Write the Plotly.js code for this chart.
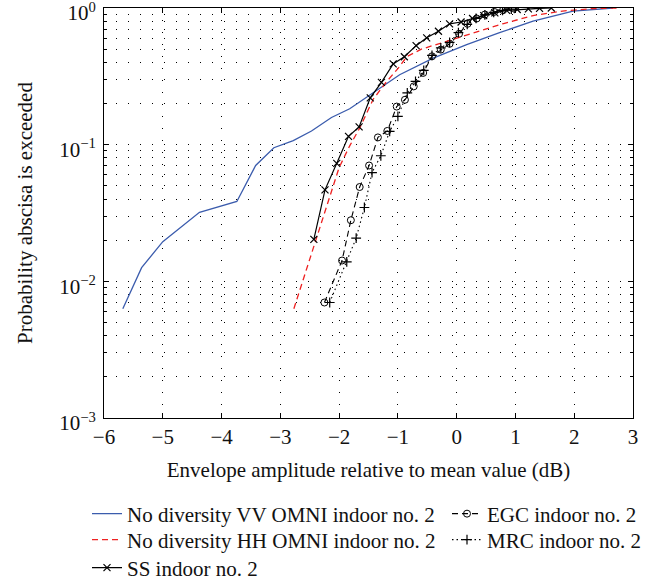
<!DOCTYPE html>
<html>
<head>
<meta charset="utf-8">
<script src="https://cdn.plot.ly/plotly-3.0.1.min.js"></script>
<style>html,body{margin:0;padding:0;background:#fff;}#chart{width:661px;height:583px;}</style>
</head>
<body>
<div id="chart"></div>
<script>
// ---- Data ----
const vvX = [-5.68, -5.36, -5.0, -4.375, -3.74, -3.42, -3.11, -2.78, -2.47, -2.13, -1.82, -1.36, -0.97, -0.40, 0.17, 0.73, 1.30, 1.98, 2.66];
const vvP = [0.0063, 0.0126, 0.0195, 0.032, 0.0384, 0.0704, 0.095, 0.107, 0.126, 0.158, 0.183, 0.25, 0.325, 0.43, 0.54, 0.66, 0.80, 0.95, 1.0];

const hhX = [-2.77, -2.41, -2.0, -1.82, -1.65, -1.42, -1.19, -1.0, -0.85, -0.6, -0.3, 0.0, 0.4, 0.8, 1.3, 1.8, 2.3, 2.72];
const hhP = [0.0063, 0.019, 0.068, 0.098, 0.132, 0.215, 0.29, 0.36, 0.44, 0.50, 0.55, 0.60, 0.68, 0.77, 0.88, 0.95, 0.99, 1.0];

const ssX = [-2.43, -2.24, -2.04, -1.84, -1.66, -1.47, -1.28, -1.08, -0.89, -0.69, -0.51, -0.31, -0.12, 0.075, 0.27, 0.46, 0.65, 0.85, 1.03, 1.22, 1.41, 1.61];
const ssP = [0.0203, 0.0467, 0.073, 0.115, 0.135, 0.22, 0.286, 0.39, 0.44, 0.53, 0.605, 0.676, 0.766, 0.79, 0.838, 0.88, 0.92, 0.96, 0.975, 0.985, 0.995, 1.0];

const egcX = [-2.25, -1.95, -1.80, -1.65, -1.49, -1.34, -1.18, -1.02, -0.88, -0.73, -0.57, -0.42, -0.27, -0.12, 0.04, 0.185, 0.34, 0.48, 0.64, 0.79, 0.95];
const egcP = [0.0070, 0.0142, 0.028, 0.049, 0.0704, 0.113, 0.126, 0.19, 0.213, 0.267, 0.335, 0.443, 0.496, 0.547, 0.647, 0.766, 0.838, 0.896, 0.937, 0.964, 1.0];

const mrcX = [-2.16, -1.87, -1.71, -1.57, -1.44, -1.29, -1.14, -1.0, -0.84, -0.70, -0.56, -0.42, -0.27, -0.12, 0.03, 0.18, 0.33, 0.48, 0.63, 0.78, 0.93];
const mrcP = [0.0070, 0.0139, 0.0207, 0.0347, 0.0625, 0.083, 0.125, 0.161, 0.239, 0.29, 0.35, 0.45, 0.51, 0.56, 0.66, 0.76, 0.84, 0.89, 0.93, 0.96, 0.98];

const seriesNames = [
  "No diversity VV OMNI indoor no. 2",
  "EGC indoor no. 2",
  "No diversity HH OMNI indoor no. 2",
  "MRC indoor no. 2",
  "SS indoor no. 2"
];

const xTickVals = [-6, -5, -4, -3, -2, -1, 0, 1, 2, 3];
const yTickVals = [0.001, 0.01, 0.1, 1];
const yTickText = ["10<sup>−3</sup>", "10<sup>−2</sup>", "10<sup>−1</sup>", "10<sup>0</sup>"];

const xTitle = "Envelope amplitude relative to mean value (dB)";
const yTitle = "Probability abscisa is exceeded";

// ---- Build ----
const FONT = "Liberation Serif, Times New Roman, serif";
const FS = 21;
const minorY = [];
[0.001, 0.01, 0.1].forEach(d => { for (let k = 2; k <= 9; k++) minorY.push(d * k); });

const traces = [
  {x: vvX, y: vvP, name: seriesNames[0], mode: "lines", legend: "legend",
   line: {color: "#3b5cad", width: 1.3}},
  {x: egcX, y: egcP, name: seriesNames[1], mode: "lines+markers", legend: "legend4",
   line: {color: "#000", width: 1.1, dash: "6px,4px"},
   marker: {symbol: "circle-open", size: 7, color: "#000", line: {width: 1, color: "#000"}}},
  {x: hhX, y: hhP, name: seriesNames[2], mode: "lines", legend: "legend2",
   line: {color: "#ee2222", width: 1.3, dash: "6px,4px"}},
  {x: mrcX, y: mrcP, name: seriesNames[3], mode: "lines+markers", legend: "legend5",
   line: {color: "#000", width: 1.1, dash: "1.5px,3px"},
   marker: {symbol: "cross-thin-open", size: 7, color: "#000", line: {width: 1.2, color: "#000"}}},
  {x: ssX, y: ssP, name: seriesNames[4], mode: "lines+markers", legend: "legend3",
   line: {color: "#000", width: 1.2},
   marker: {symbol: "x-thin-open", size: 7, color: "#000", line: {width: 1.2, color: "#000"}}}
];

const gridDash = "1px,11px";
// plot area: top 8px, bottom 418px (410px tall)
const rowY = px => (418 - px) / 410;
const colX = px => (px - 104) / 529;
function leg(xpx, ypx) {
  return {x: colX(xpx), xanchor: "left", y: rowY(ypx), yanchor: "middle", orientation: "v",
          bgcolor: "rgba(0,0,0,0)", borderwidth: 0, font: {family: FONT, size: FS, color: "#111"},
          itemwidth: 30, tracegroupgap: 0};
}

const layout = {
  width: 661, height: 583,
  margin: {l: 104, r: 28, t: 8, b: 165, pad: 0, autoexpand: false},
  paper_bgcolor: "#fff", plot_bgcolor: "#fff",
  font: {family: FONT, size: FS, color: "#111"},
  showlegend: true,
  xaxis: {
    range: [-6, 3], tickmode: "array", tickvals: xTickVals,
    ticks: "inside", ticklen: 5, tickcolor: "#000", tickwidth: 1,
    showline: true, linecolor: "#000", linewidth: 1, mirror: "ticks",
    showgrid: true, gridcolor: "#000", gridwidth: 1, griddash: gridDash,
    zeroline: false, ticklabeloverflow: "allow",
    tickfont: {family: FONT, size: FS, color: "#111"},
    title: {text: xTitle, font: {family: FONT, size: FS, color: "#111"}, standoff: 14}
  },
  yaxis: {
    type: "log", range: [-3, 0], tickmode: "array", tickvals: yTickVals, ticktext: yTickText,
    ticks: "inside", ticklen: 5, tickcolor: "#000", tickwidth: 1,
    showline: true, linecolor: "#000", linewidth: 1, mirror: "ticks",
    showgrid: true, gridcolor: "#000", gridwidth: 1, griddash: gridDash,
    zeroline: false, ticklabelstandoff: 3, ticklabelshift: 5, ticklabeloverflow: "allow",
    tickfont: {family: FONT, size: FS, color: "#111"},
    minor: {tickmode: "array", tickvals: minorY, ticks: "inside", ticklen: 3, tickcolor: "#000",
            showgrid: true, gridcolor: "#000", gridwidth: 1, griddash: gridDash},
    title: {text: yTitle, font: {family: FONT, size: FS, color: "#111"}, standoff: 20}
  },
  legend: leg(87, 514),
  legend2: leg(87, 540),
  legend3: leg(87, 568),
  legend4: leg(447, 514),
  legend5: leg(447, 540)
};

Plotly.newPlot("chart", traces, layout, {displayModeBar: false, staticPlot: true});
</script>
</body>
</html>
